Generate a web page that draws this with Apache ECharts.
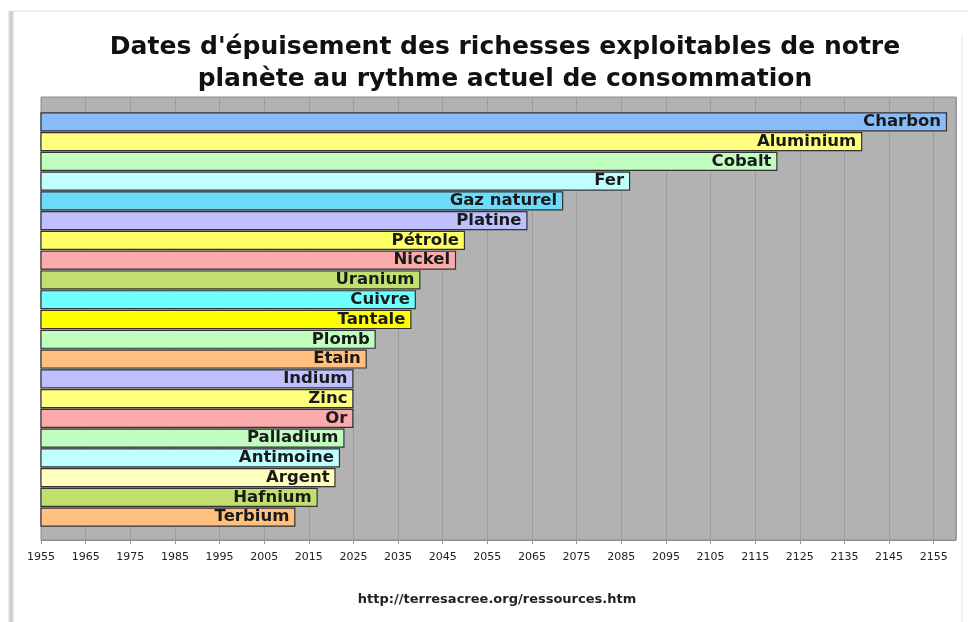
<!DOCTYPE html>
<html>
<head>
<meta charset="utf-8">
<script src="https://cdn.jsdelivr.net/npm/echarts@6/dist/echarts.min.js"></script>
<style>
  html, body { margin: 0; padding: 0; background: #ffffff; }
  #chart { width: 968px; height: 622px; }
</style>
</head>
<body>
<div id="chart"></div>
<script>
// Categories (top to bottom)
const resources = ['Charbon', 'Aluminium', 'Cobalt', 'Fer', 'Gaz naturel', 'Platine', 'Pétrole', 'Nickel', 'Uranium', 'Cuivre', 'Tantale', 'Plomb', 'Etain', 'Indium', 'Zinc', 'Or', 'Palladium', 'Antimoine', 'Argent', 'Hafnium', 'Terbium'];
// Year of exhaustion
const years = [2158, 2139, 2120, 2087, 2072, 2064, 2050, 2048, 2040, 2039, 2038, 2030, 2028, 2025, 2025, 2025, 2023, 2022, 2021, 2017, 2012];
// Bar fill colours
const barColors = ['#88bbf8', '#ffff80', '#c2fdc0', '#c0ffff', '#6ddcfb', '#c0c0ff', '#ffff66', '#fbabab', '#c2e070', '#70ffff', '#ffff00', '#c2fdc0', '#ffc080', '#c0c0ff', '#ffff80', '#fbabab', '#c2fdc0', '#c0ffff', '#ffffc0', '#c2e070', '#ffc080'];
// Axis settings
const axisMin = 1955;
const axisMax = 2160;
const axisStep = 10;

const titleLines = ["Dates d'épuisement des richesses exploitables de notre", "planète au rythme actuel de consommation"];
const sourceText = 'http://terresacree.org/ressources.htm';

const chart = echarts.init(document.getElementById('chart'), null, { renderer: 'canvas' });

const plotLeft = 41, plotWidth = 915;

const option = {
  backgroundColor: '#ffffff',
  animation: false,
  graphic: [
    { type: 'rect', shape: { x: 8, y: 11, width: 6, height: 611 },
      style: { fill: new echarts.graphic.LinearGradient(0, 0, 1, 0, [
        { offset: 0, color: '#f2f2f2' }, { offset: 0.5, color: '#c4c4c4' }, { offset: 1, color: '#ececec' }]) } },
    { type: 'rect', shape: { x: 14, y: 10, width: 954, height: 2 }, style: { fill: '#ececec' } },
    { type: 'rect', shape: { x: 961, y: 34, width: 2, height: 588 }, style: { fill: '#f3f3f3' } },
    { type: 'text', x: 505, y: 47, style: { text: titleLines[0], textAlign: 'center', textVerticalAlign: 'middle',
      font: 'bold 25px "DejaVu Sans"', fill: '#111' } },
    { type: 'text', x: 505, y: 79, style: { text: titleLines[1], textAlign: 'center', textVerticalAlign: 'middle',
      font: 'bold 25px "DejaVu Sans"', fill: '#111', letterSpacing: 0.6 } },
    { type: 'text', x: 497, y: 600, style: { text: sourceText, textAlign: 'center', textVerticalAlign: 'middle',
      font: 'bold 13px "DejaVu Sans"', fill: '#222' } }
  ],
  grid: [
    { left: plotLeft, top: 97, width: plotWidth, height: 443, show: true,
      backgroundColor: '#b2b2b2', borderColor: '#8c8c8c', borderWidth: 1 },
    { left: plotLeft, top: 112, width: plotWidth, height: 415 }
  ],
  xAxis: [
    { type: 'value', gridIndex: 0, min: axisMin, max: axisMax, interval: axisStep,
      axisLine: { show: true, lineStyle: { color: '#8c8c8c', width: 1 } },
      axisTick: { show: true, length: 4, lineStyle: { color: '#9a9a9a' } },
      splitLine: { show: true, lineStyle: { color: '#9c9c9c', width: 1 } },
      axisLabel: { showMaxLabel: false, formatter: (v) => String(v), fontFamily: 'DejaVu Sans', fontSize: 11, color: '#222', margin: 12 } },
    { type: 'value', gridIndex: 1, min: axisMin, max: axisMax, show: false }
  ],
  yAxis: [
    { type: 'value', gridIndex: 0, show: false },
    { type: 'category', gridIndex: 1, inverse: true, data: resources, show: false }
  ],
  series: [{
    type: 'bar',
    xAxisIndex: 1,
    yAxisIndex: 1,
    barCategoryGap: '3%',
    clip: true,
    data: years.map((v, i) => ({ value: v, itemStyle: { color: barColors[i] } })),
    itemStyle: { borderColor: '#333', borderWidth: 1.2 },
    label: {
      show: true, position: 'insideRight', distance: 6, formatter: '{b}',
      fontFamily: 'DejaVu Sans', fontWeight: 'bold', fontSize: 16.5, color: '#1a1a1a'
    }
  }]
};

chart.setOption(option);
</script>
</body>
</html>
